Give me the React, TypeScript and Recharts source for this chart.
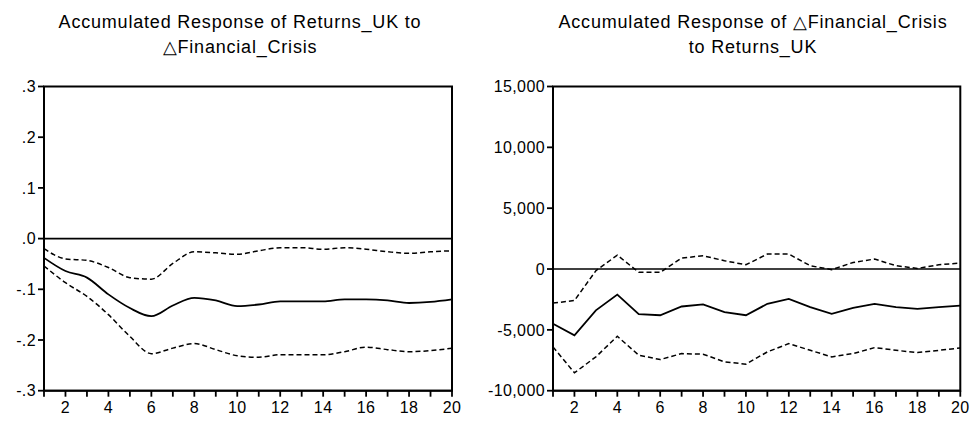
import React from 'react';
import { LineChart, Line, XAxis, YAxis, ReferenceLine, ReferenceArea } from 'recharts';

const periods = [1, 2, 3, 4, 5, 6, 7, 8, 9, 10, 11, 12, 13, 14, 15, 16, 17, 18, 19, 20];

// Accumulated response of Returns_UK to dFinancial_Crisis
const ukMid = [-0.038, -0.064, -0.077, -0.11, -0.137, -0.153, -0.132, -0.117, -0.122, -0.133, -0.13, -0.124, -0.124, -0.124, -0.12, -0.12, -0.122, -0.127, -0.125, -0.12];
const ukUpper = [-0.02, -0.04, -0.043, -0.057, -0.077, -0.08, -0.049, -0.026, -0.028, -0.031, -0.024, -0.018, -0.018, -0.021, -0.018, -0.021, -0.026, -0.029, -0.026, -0.024];
const ukLower = [-0.054, -0.087, -0.114, -0.15, -0.193, -0.227, -0.216, -0.207, -0.219, -0.231, -0.234, -0.229, -0.229, -0.229, -0.223, -0.214, -0.219, -0.223, -0.221, -0.216];

// Accumulated response of dFinancial_Crisis to Returns_UK
const fcMid = [-4500, -5450, -3400, -2100, -3700, -3800, -3080, -2900, -3540, -3800, -2860, -2450, -3130, -3680, -3190, -2860, -3130, -3270, -3130, -3000];
const fcUpper = [-2800, -2590, -140, 1140, -270, -270, 900, 1090, 680, 350, 1230, 1230, 270, -50, 540, 820, 270, 50, 350, 490];
const fcLower = [-6400, -8530, -7220, -5530, -7080, -7440, -6950, -7000, -7630, -7820, -6810, -6130, -6680, -7220, -6950, -6460, -6680, -6870, -6680, -6490];

const ukTicks = [-0.3, -0.2, -0.1, 0, 0.1, 0.2, 0.3];
const fcTicks = [-10000, -5000, 0, 5000, 10000, 15000];

const ukData = periods.map((p, i) => ({ p, mid: ukMid[i], upper: ukUpper[i], lower: ukLower[i] }));
const fcData = periods.map((p, i) => ({ p, mid: fcMid[i], upper: fcUpper[i], lower: fcLower[i] }));

const font = '"Liberation Sans", Arial, sans-serif';
const tickStyle = { fill: '#000', fontSize: 16, fontFamily: font, letterSpacing: 0.4 };

const fmtUk = (v: number) => {
  if (v === 0) return '.0';
  const s = Math.abs(v).toFixed(1).replace(/^0/, '');
  return v < 0 ? '-' + s : s;
};
const fmtFc = (v: number) => v.toLocaleString('en-US');
const fmtX = (v: number) => (v % 2 === 0 ? String(v) : '');

const titleStyle: React.CSSProperties = {
  position: 'absolute',
  top: 10,
  fontFamily: font,
  fontSize: 18,
  letterSpacing: 0.8,
  lineHeight: '25px',
  color: '#000',
  textAlign: 'center',
  whiteSpace: 'nowrap',
};

function Panel({ data, ticks, fmt, yMin, yMax, margin, yWidth, curve }: any) {
  return (
    <LineChart width={487} height={421} data={data} margin={margin}>
      <XAxis
        dataKey="p"
        type="number"
        domain={[1, 20]}
        ticks={periods}
        interval={0}
        tickFormatter={fmtX}
        tick={tickStyle}
        tickSize={6}
        tickMargin={5}
        height={30}
        stroke="#000"
        strokeWidth={1.8}
      />
      <YAxis
        type="number"
        domain={[yMin, yMax]}
        ticks={ticks}
        interval={0}
        tickFormatter={fmt}
        tick={tickStyle}
        tickSize={6}
        tickMargin={2}
        width={yWidth}
        stroke="#000"
        strokeWidth={1.8}
        allowDataOverflow
      />
      <ReferenceArea x1={1} x2={20} y1={yMin} y2={yMax} fill="none" stroke="#000" strokeWidth={2} ifOverflow="visible" />
      <ReferenceLine y={0} stroke="#000" strokeWidth={1.7} />
      <Line type={curve} dataKey="upper" stroke="#000" strokeWidth={1.5} strokeDasharray="5 3" dot={false} isAnimationActive={false} />
      <Line type={curve} dataKey="mid" stroke="#000" strokeWidth={1.8} dot={false} isAnimationActive={false} />
      <Line type={curve} dataKey="lower" stroke="#000" strokeWidth={1.5} strokeDasharray="5 3" dot={false} isAnimationActive={false} />
    </LineChart>
  );
}

export default function App() {
  return (
    <div style={{ position: 'absolute', left: 0, top: 0, width: 974, height: 421, background: '#fff', overflow: 'hidden' }}>
      <div style={{ ...titleStyle, left: 30, width: 420 }}>
        Accumulated Response of Returns_UK to
        <br />
        △Financial_Crisis
      </div>
      <div style={{ ...titleStyle, left: 543, width: 420 }}>
        Accumulated Response of △Financial_Crisis
        <br />
        to Returns_UK
      </div>
      <div style={{ position: 'absolute', left: 0, top: 0 }}>
        <Panel
          data={ukData}
          ticks={ukTicks}
          fmt={fmtUk}
          yMin={-0.3}
          yMax={0.3}
          yWidth={40}
          curve="monotone"
          margin={{ top: 86.5, right: 35, bottom: 0.3, left: 4 }}
        />
      </div>
      <div style={{ position: 'absolute', left: 487, top: 0 }}>
        <Panel
          data={fcData}
          ticks={fcTicks}
          fmt={fmtFc}
          yMin={-10000}
          yMax={15000}
          yWidth={62}
          curve="linear"
          margin={{ top: 86.5, right: 13.7, bottom: 0.3, left: 4 }}
        />
      </div>
    </div>
  );
}
